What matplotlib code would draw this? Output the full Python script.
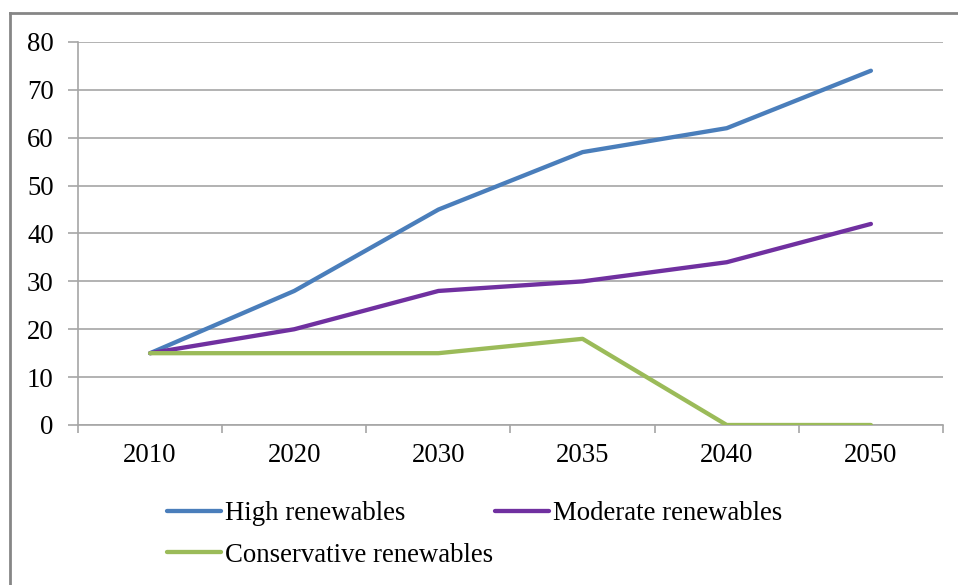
import matplotlib
matplotlib.use("Agg")
import matplotlib.pyplot as plt
from matplotlib.lines import Line2D

years = ["2010", "2020", "2030", "2035", "2040", "2050"]
high = [15, 28, 45, 57, 62, 74]
moderate = [15, 20, 28, 30, 34, 42]
conservative = [15, 15, 15, 18, 0, 0]
series_names = ["High renewables", "Moderate renewables", "Conservative renewables"]
yticks = [0, 10, 20, 30, 40, 50, 60, 70, 80]

plt.rcParams['font.family'] = ['Liberation Serif', 'DejaVu Serif']

W, H = 958, 585
fig = plt.figure(figsize=(W / 100, H / 100), dpi=100)
ax = fig.add_axes([78 / W, 1 - 425 / H, (943 - 78) / W, (425 - 42) / H])

x = list(range(len(years)))
colors = ["#4a7ebb", "#7030a0", "#9bbb59"]
handles = []
for vals, name, c in zip([high, moderate, conservative], series_names, colors):
    h, = ax.plot(x, vals, color=c, lw=3.1, label=name, solid_capstyle='round', solid_joinstyle='round', zorder=3)
    handles.append(h)

ax.set_xlim(-0.5, len(years) - 0.5)
ax.set_ylim(0, 80)
ax.set_yticks(yticks)
ax.set_yticklabels([str(v) for v in yticks])
ax.set_xticks(x)
ax.set_xticklabels(years)
ax.set_xticks([i - 0.5 for i in range(len(years) + 1)], minor=True)

grid_c = "#a6a6a6"
ax.yaxis.grid(True, color=grid_c, lw=1.2)
ax.set_axisbelow(True)
for s in ["top", "right"]:
    ax.spines[s].set_visible(False)
for s in ["left", "bottom"]:
    ax.spines[s].set_color(grid_c)
    ax.spines[s].set_linewidth(1.2)

fs = 19.3
ax.tick_params(axis='y', which='major', length=7.5, width=1.2, color=grid_c, pad=10, labelsize=fs)
ax.tick_params(axis='x', which='major', length=0, pad=13, labelsize=fs)
ax.tick_params(axis='x', which='minor', length=6, width=1.2, color=grid_c, direction='out')

order = [0, 2, 1]
leg = ax.legend([handles[i] for i in order], [series_names[i] for i in order],
                loc='upper left', bbox_to_anchor=(167 / W, 1 - 501 / H), bbox_transform=fig.transFigure,
                ncol=2, frameon=False, fontsize=fs, handlelength=2.0, handletextpad=0.15,
                columnspacing=0.1, labelspacing=0.62, borderpad=0, borderaxespad=0)

# outer border (cropped at right and bottom)
bc = "#868686"
fig.add_artist(Line2D([10 / W, 10 / W], [1 - 13 / H, 0], transform=fig.transFigure, color=bc, lw=2))
fig.add_artist(Line2D([10 / W, 1], [1 - 13 / H, 1 - 13 / H], transform=fig.transFigure, color=bc, lw=2))

fig.savefig("out.png", dpi=100)
